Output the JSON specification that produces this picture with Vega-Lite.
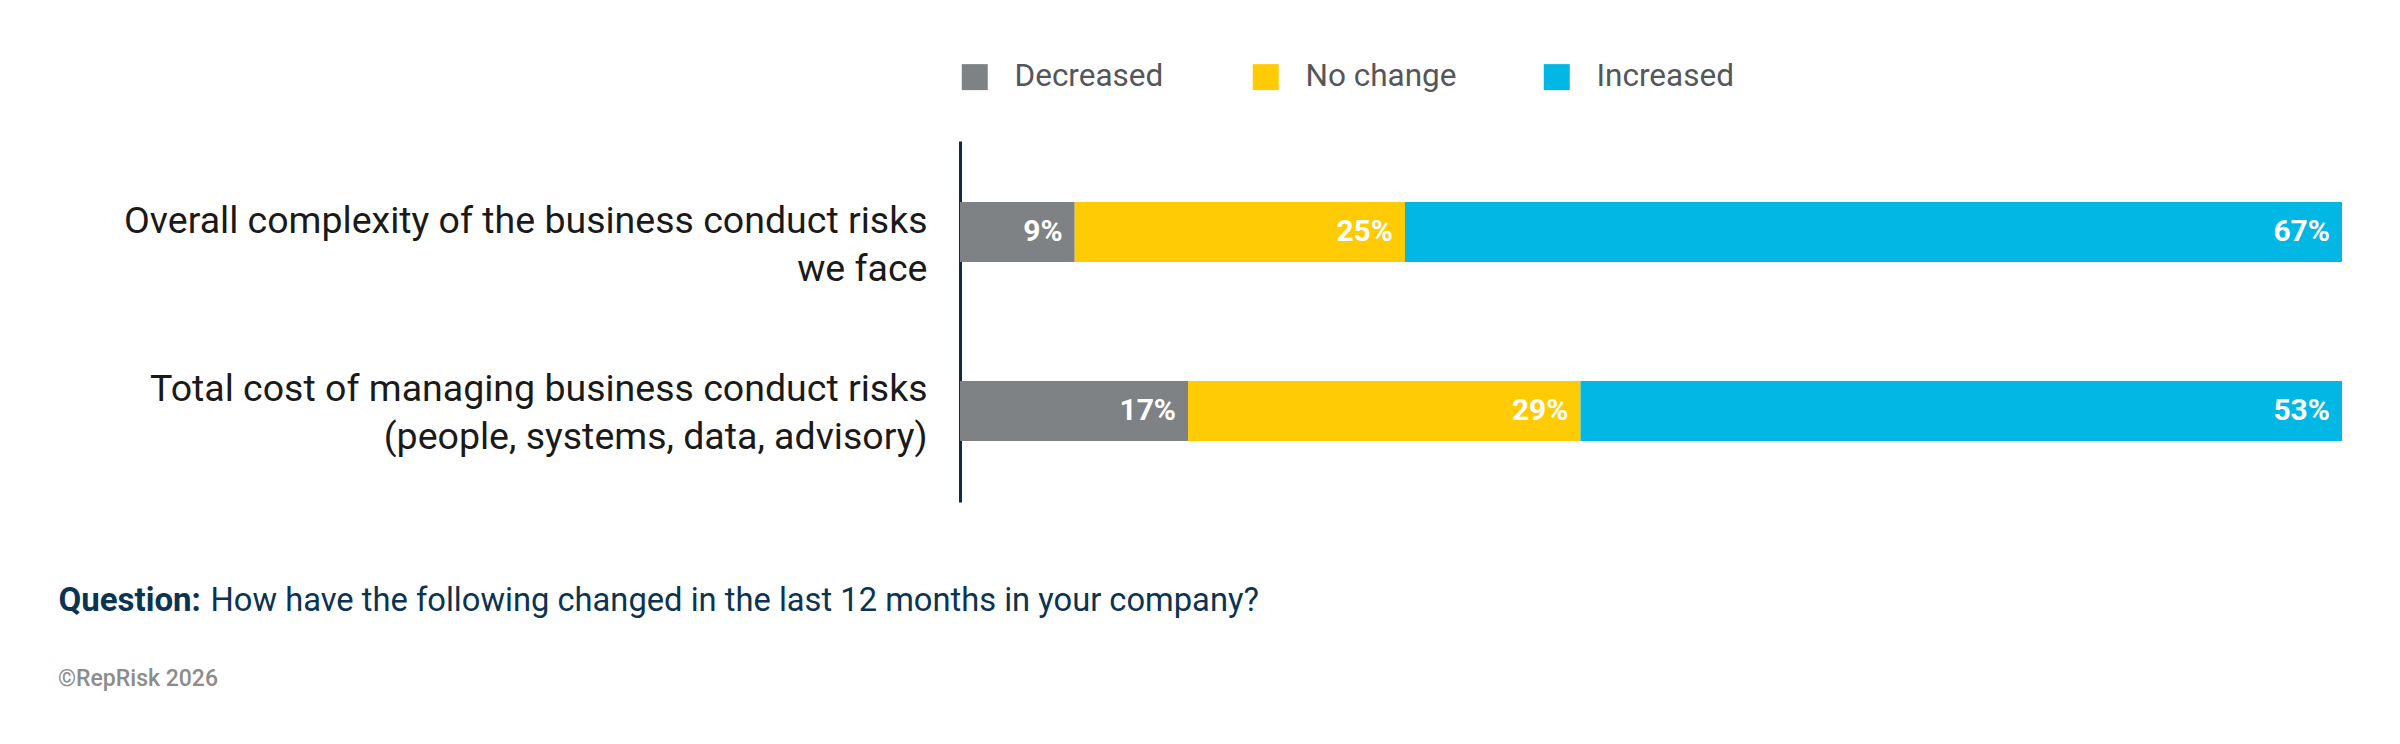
{
  "$schema": "https://vega.github.io/schema/vega-lite/v6.json",
  "width": 1382,
  "height": 361,
  "autosize": "none",
  "padding": {"left": 960, "top": 141, "right": 58, "bottom": 242},
  "background": "white",
  "config": {
    "font": "Roboto",
    "view": {"stroke": null}
  },
  "title": {
    "text": "©RepRisk 2026",
    "orient": "bottom",
    "anchor": "start",
    "frame": "group",
    "dx": -902,
    "offset": 51,
    "font": "Roboto",
    "fontSize": 23,
    "fontWeight": 500,
    "color": "#8c8c8c"
  },
  "data": {
    "values": [
      {"item": "Overall complexity of the business conduct risks|we face", "response": "Decreased", "rank": 1, "share": 8.3, "pct": 0.09},
      {"item": "Overall complexity of the business conduct risks|we face", "response": "No change", "rank": 2, "share": 23.9, "pct": 0.25},
      {"item": "Overall complexity of the business conduct risks|we face", "response": "Increased", "rank": 3, "share": 67.8, "pct": 0.67},
      {"item": "Total cost of managing business conduct risks|(people, systems, data, advisory)", "response": "Decreased", "rank": 1, "share": 16.5, "pct": 0.17},
      {"item": "Total cost of managing business conduct risks|(people, systems, data, advisory)", "response": "No change", "rank": 2, "share": 28.4, "pct": 0.29},
      {"item": "Total cost of managing business conduct risks|(people, systems, data, advisory)", "response": "Increased", "rank": 3, "share": 55.1, "pct": 0.53}
    ]
  },
  "encoding": {
    "y": {
      "field": "item",
      "type": "nominal",
      "sort": null,
      "scale": {"paddingInner": 0.665, "paddingOuter": 0.341},
      "axis": {
        "title": "Question:",
        "titleAngle": 0,
        "titleX": -902,
        "titleY": 459,
        "titleAlign": "left",
        "titleBaseline": "middle",
        "titleFont": "Roboto",
        "titleFontSize": 33,
        "titleFontWeight": "bold",
        "titleColor": "#0b3352",
        "labelExpr": "split(datum.label, '|')",
        "labelFont": "Roboto",
        "labelFontSize": 37.5,
        "labelColor": "#1a1a1a",
        "labelLineHeight": 48,
        "labelPadding": 33,
        "labelLimit": 1000,
        "labelAlign": "right",
        "labelBaseline": "middle",
        "labelOffset": {
          "condition": {"test": "indexof(datum.value, 'Total') == 0", "value": -21},
          "value": -10
        },
        "ticks": false,
        "domainColor": "#0c2d48",
        "domainWidth": 3
      }
    },
    "x": {
      "field": "share",
      "type": "quantitative",
      "stack": "zero",
      "scale": {"domain": [0, 100], "nice": false},
      "axis": {
        "title": "How have the following changed in the last 12 months in your company?",
        "titleX": -750,
        "titleY": 98,
        "titleAlign": "left",
        "titleBaseline": "middle",
        "titleFont": "Roboto",
        "titleFontSize": 32.7,
        "titleFontWeight": "normal",
        "titleColor": "#0b3352",
        "labels": false,
        "ticks": false,
        "domain": false,
        "grid": false
      }
    },
    "order": {"field": "rank", "type": "quantitative", "sort": "ascending"}
  },
  "layer": [
    {
      "mark": {"type": "bar"},
      "encoding": {
        "color": {
          "field": "response",
          "type": "nominal",
          "scale": {
            "domain": ["Decreased", "No change", "Increased"],
            "range": ["#7f8285", "#ffcb05", "#00b8e3"]
          },
          "legend": {
            "title": null,
            "orient": "none",
            "legendX": -1,
            "legendY": -80,
            "padding": 0,
            "direction": "horizontal",
            "columns": 3,
            "gridAlign": "all",
            "columnPadding": 84,
            "symbolType": "square",
            "symbolSize": 676,
            "symbolStrokeWidth": 0,
            "symbolOpacity": 1,
            "labelOffset": 24,
            "labelFont": "Roboto",
            "labelFontSize": 31.5,
            "labelColor": "#54575a",
            "labelLimit": 400
          }
        }
      }
    },
    {
      "mark": {
        "type": "text",
        "align": "right",
        "baseline": "middle",
        "dx": -12,
        "font": "Roboto",
        "fontSize": 30,
        "fontWeight": "bold",
        "color": "white"
      },
      "encoding": {
        "detail": {"field": "response"},
        "text": {"field": "pct", "type": "quantitative", "format": ".0%"}
      }
    }
  ]
}
